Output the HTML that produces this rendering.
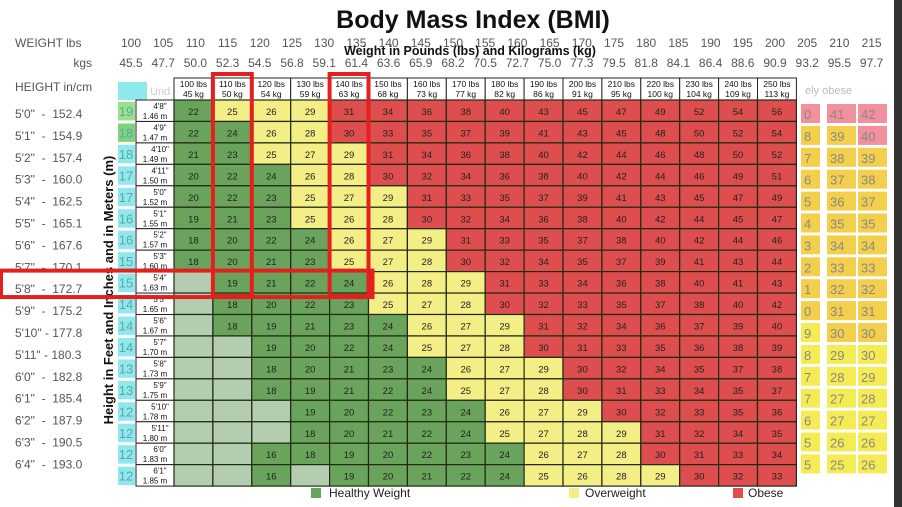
<!DOCTYPE html>
<html><head><meta charset="utf-8">
<style>
html,body{margin:0;padding:0;background:#fff;width:902px;height:507px;overflow:hidden}
svg{display:block;font-family:"Liberation Sans",Arial,sans-serif}
</style></head>
<body>
<svg id="chart" width="902" height="507" viewBox="0 0 902 507" xmlns="http://www.w3.org/2000/svg">
<text x="473" y="28" text-anchor="middle" font-size="25" font-weight="bold" fill="#111">Body Mass Index (BMI)</text>
<text x="15" y="47" font-size="12" fill="#555">WEIGHT lbs</text>
<text x="92" y="67" font-size="12" fill="#555" text-anchor="end">kgs</text>
<text x="15" y="91" font-size="12" fill="#555">HEIGHT in/cm</text>
<g id="topLabels"></g>
<text x="470" y="55" text-anchor="middle" font-size="12.5" font-weight="bold" fill="#111">Weight in Pounds (lbs) and Kilograms (kg)</text>
<g id="ghost"></g>
<g id="grid"></g>
<text transform="translate(113,290) rotate(-90)" text-anchor="middle" font-size="13" font-weight="bold" fill="#111">Height in Feet and Inches and in Meters (m)</text>
<g id="hl"></g>
<g>
<rect x="311" y="488" width="10" height="10" fill="#6aa35c"/>
<text x="329" y="497" font-size="12" fill="#222">Healthy Weight</text>
<rect x="569" y="488" width="10" height="10" fill="#f3ee86"/>
<text x="585" y="497" font-size="12" fill="#222">Overweight</text>
<rect x="733" y="488" width="10" height="10" fill="#de4e4e"/>
<text x="748" y="497" font-size="12" fill="#222">Obese</text>
</g>
<rect x="894" y="0" width="8" height="507" fill="#333"/>
</svg>
<script>
const topLbs=[100,105,110,115,120,125,130,135,140,145,150,155,160,165,170,175,180,185,190,195,200,205,210,215];
const topKgs=["45.5","47.7","50.0","52.3","54.5","56.8","59.1","61.4","63.6","65.9","68.2","70.5","72.7","75.0","77.3","79.5","81.8","84.1","86.4","88.6","90.9","93.2","95.5","97.7"];
const leftHeights=["5'0\"  -  152.4","5'1\"  -  154.9","5'2\"  -  157.4","5'3\"  -  160.0","5'4\"  -  162.5","5'5\"  -  165.1","5'6\"  -  167.6","5'7\"  -  170.1","5'8\"  -  172.7","5'9\"  -  175.2","5'10\" - 177.8","5'11\" - 180.3","6'0\"  -  182.8","6'1\"  -  185.4","6'2\"  -  187.9","6'3\"  -  190.5","6'4\"  -  193.0"];
const ghostA=["0","8","7","6","5","4","3","2","1","0","9","8","7","7","6","5","5"];
const ghostAFull=[40,38,37,36,35,34,33,32,31,30,29,28,27,27,26,25,25];
const ghostB=[41,39,38,37,36,35,34,33,32,31,30,29,28,27,27,26,25];
const ghostC=[42,40,39,38,37,35,34,33,32,31,30,30,29,28,27,26,26];
const colLbs=[100,110,120,130,140,150,160,170,180,190,200,210,220,230,240,250];
const colKg=[45,50,54,59,63,68,73,77,82,86,91,95,100,104,109,113];
const rowFt=["4'8\"","4'9\"","4'10\"","4'11\"","5'0\"","5'1\"","5'2\"","5'3\"","5'4\"","5'5\"","5'6\"","5'7\"","5'8\"","5'9\"","5'10\"","5'11\"","6'0\"","6'1\""];
const rowM=["1.46","1.47","1.49","1.50","1.52","1.55","1.57","1.60","1.63","1.65","1.67","1.70","1.73","1.75","1.78","1.80","1.83","1.85"];
const sideBmi=[19,18,18,17,17,16,16,15,15,14,14,14,13,13,12,12,12,12];
const bmi=[
[22,25,26,29,31,34,36,38,40,43,45,47,49,52,54,56],
[22,24,26,28,30,33,35,37,39,41,43,45,48,50,52,54],
[21,23,25,27,29,31,34,36,38,40,42,44,46,48,50,52],
[20,22,24,26,28,30,32,34,36,38,40,42,44,46,49,51],
[20,22,23,25,27,29,31,33,35,37,39,41,43,45,47,49],
[19,21,23,25,26,28,30,32,34,36,38,40,42,44,45,47],
[18,20,22,24,26,27,29,31,33,35,37,38,40,42,44,46],
[18,20,21,23,25,27,28,30,32,34,35,37,39,41,43,44],
[null,19,21,22,24,26,28,29,31,33,34,36,38,40,41,43],
[null,18,20,22,23,25,27,28,30,32,33,35,37,38,40,42],
[null,18,19,21,23,24,26,27,29,31,32,34,36,37,39,40],
[null,null,19,20,22,24,25,27,28,30,31,33,35,36,38,39],
[null,null,18,20,21,23,24,26,27,29,30,32,34,35,37,38],
[null,null,18,19,21,22,24,25,27,28,30,31,33,34,35,37],
[null,null,null,19,20,22,23,24,26,27,29,30,32,33,35,36],
[null,null,null,18,20,21,22,24,25,27,28,29,31,32,34,35],
[null,null,16,18,19,20,22,23,24,26,27,28,30,31,33,34],
[null,null,16,null,19,20,21,22,24,25,26,28,29,30,32,33]];
const hlCol=[110,140], hlRow="5'4\"";

(function(){
const NS="http://www.w3.org/2000/svg";
function mk(p,tag,at,txt){const e=document.createElementNS(NS,tag);for(const k in at)e.setAttribute(k,at[k]);if(txt!==undefined)e.textContent=txt;p.appendChild(e);return e;}
const gx0=174,cw=38.9,gy0=100,rh=21.45,hy0=78;
const X=i=>gx0+i*cw, Y=j=>gy0+j*rh;
const topX=i=>131+i*32.2;
const sideY=i=>114+i*21.9;
const tg=document.getElementById('topLabels');
topLbs.forEach((v,i)=>{const t=mk(tg,'text',{x:topX(i),y:47,'text-anchor':'middle','font-size':12,fill:'#555'},v);

});
topKgs.forEach((v,i)=>{const t=mk(tg,'text',{x:topX(i),y:67,'text-anchor':'middle','font-size':12,fill:'#555'},v);

});
leftHeights.forEach((v,i)=>{const t=mk(tg,'text',{x:15,y:sideY(i)+4,'font-size':12,fill:'#555',style:'white-space:pre'},v);

});
const gh=document.getElementById('ghost');
mk(gh,'text',{x:805,y:94,'font-size':11,fill:'#bbb'},'ely obese');
mk(gh,'rect',{x:118,y:82,width:29,height:18,fill:'#8ee8ec'});
mk(gh,'text',{x:150,y:95,'font-size':11,fill:'#ccc'},'Und');
function gcol(v,r){if(v>=40)return '#f2909c';if(r<10||(v>=30&&r<11))return '#f3cf4c';return '#f5ec55';}
[[ghostA,ghostAFull,801,19],[ghostB,ghostB,827,29],[ghostC,ghostC,858,29]].forEach(([arr,full,x,w])=>{arr.forEach((v,i)=>{
const r=mk(gh,'rect',{x:x,y:sideY(i)-10,width:w,height:19,fill:gcol(full[i],i)});


mk(gh,'text',{x:x+3,y:sideY(i)+5,'font-size':13,fill:'#888'},v);});});

const g=document.getElementById('grid');
colLbs.forEach((v,i)=>{const r=mk(g,'rect',{x:X(i),y:hy0,width:cw,height:22,fill:'#fff',stroke:'#222','stroke-width':1});


mk(g,'text',{x:X(i)+cw/2,y:hy0+9,'text-anchor':'middle','font-size':8.5,fill:'#111'},v+' lbs');
mk(g,'text',{x:X(i)+cw/2,y:hy0+19,'text-anchor':'middle','font-size':8.5,fill:'#111'},colKg[i]+' kg');});
rowFt.forEach((ft,j)=>{
const sb=mk(g,'rect',{x:118,y:Y(j)+2,width:17,height:rh-3,fill:j===0?'#9be08a':(j===1?'#7fd47a':'#8ee8ec')});


mk(g,'text',{x:126,y:Y(j)+16,'text-anchor':'middle','font-size':13,fill:'#5aa'},sideBmi[j]);
const lc=mk(g,'rect',{x:136,y:Y(j),width:38,height:rh,fill:'#fff',stroke:'#222','stroke-width':1});


mk(g,'text',{x:160,y:Y(j)+9,'text-anchor':'middle','font-size':8,fill:'#111'},ft);
mk(g,'text',{x:155,y:Y(j)+19,'text-anchor':'middle','font-size':8,fill:'#111'},rowM[j]+' m');
bmi[j].forEach((v,i)=>{
const f=v===null?'#b4ccaf':(v<25?'#6aa35c':(v<30?'#f3ee86':'#de4e4e'));
const c=mk(g,'rect',{x:X(i),y:Y(j),width:cw,height:rh,fill:f,stroke:'#1f2a12','stroke-width':1.2});


if(v!==null)mk(g,'text',{x:X(i)+cw/2,y:Y(j)+15,'text-anchor':'middle','font-size':9.5,fill:'#222'},v);
});});
const hl=document.getElementById('hl');
const rj=rowFt.indexOf(hlRow);
hlCol.forEach(c=>{const i=colLbs.indexOf(c);
const r=mk(hl,'rect',{x:X(i),y:74,width:cw,height:Y(rj+1)-74+3,fill:'none',stroke:'#e3201f','stroke-width':4});

});
const rr=mk(hl,'rect',{x:1,y:Y(rj)-1,width:X(colLbs.indexOf(hlCol[1])+1)+3,height:rh+5,fill:'none',stroke:'#e3201f','stroke-width':4});


})();
</script>
</body></html>
